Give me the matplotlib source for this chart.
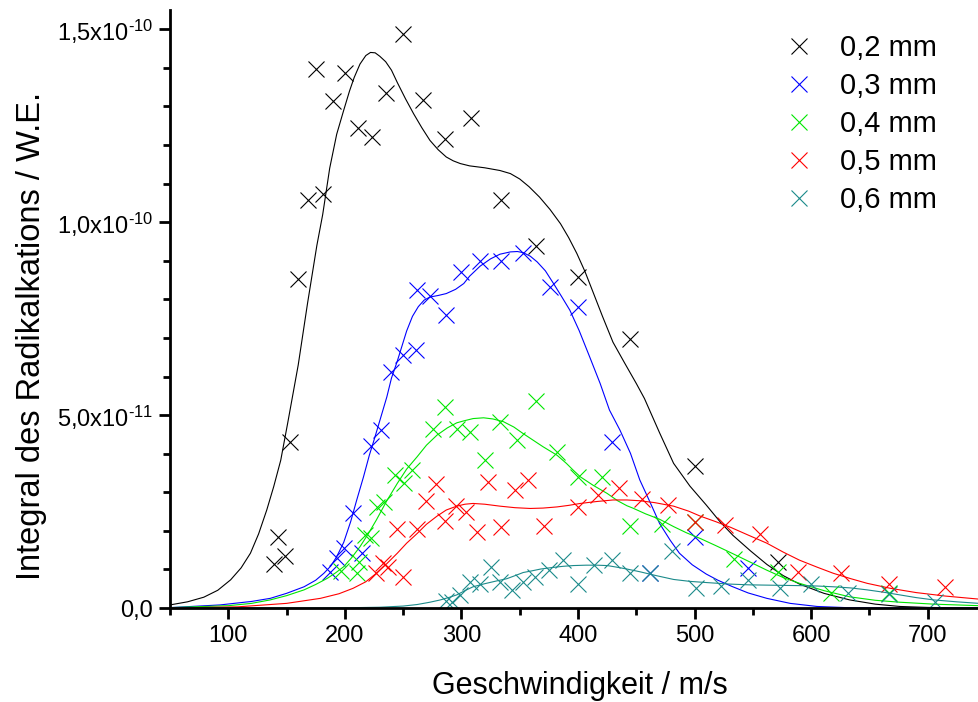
import matplotlib.pyplot as plt
from matplotlib.ticker import FixedLocator, FuncFormatter
import numpy as np

plt.rcParams['font.family'] = ['Liberation Sans', 'DejaVu Sans']
plt.rcParams['mathtext.fontset'] = 'custom'
plt.rcParams['mathtext.rm'] = 'Liberation Sans'
plt.rcParams['mathtext.it'] = 'Liberation Sans'

# measured points (y in units of 1e-12)
x_02 = [139, 143, 149, 153, 160, 168, 175, 181, 190, 200, 211, 223, 235, 250, 267, 286, 308, 334, 364, 400, 445, 500, 572]
y_02 = [11.4, 18.4, 13.5, 43.0, 85.2, 105.7, 139.6, 107.2, 131.3, 138.8, 124.3, 122.2, 133.6, 148.9, 131.6, 121.5, 126.9, 105.7, 93.8, 85.7, 69.6, 36.8, 12.0]

x_03 = [187, 193, 199, 207, 215, 222, 231, 240, 250, 261, 262, 273, 287, 300, 316, 334, 353, 376, 400, 429, 462, 500, 546]
y_03 = [9.4, 12.9, 15.5, 24.5, 14.2, 42.0, 46.1, 61.2, 65.5, 66.8, 82.4, 80.8, 75.9, 87.1, 90.0, 90.0, 92.0, 83.2, 78.0, 43.1, 9.0, 18.5, 10.3]

x_04 = [197, 210, 212, 217, 222, 228, 234, 243, 251, 258, 276, 286, 296, 307, 320, 333, 348, 364, 382, 400, 421, 445, 472, 500, 534, 572, 617, 667]
y_04 = [9.6, 9.0, 11.8, 18.9, 18.1, 26.2, 27.5, 34.5, 32.5, 35.7, 46.5, 52.0, 46.5, 45.7, 38.3, 48.3, 43.6, 53.6, 40.4, 33.9, 33.9, 21.2, 21.7, 22.4, 12.6, 9.4, 3.8, 4.0]

x_05 = [227, 233, 237, 250, 245, 262, 270, 278, 286, 295, 304, 313, 323, 334, 346, 357, 371, 400, 417, 435, 455, 477, 500, 526, 556, 589, 626, 667, 715]
y_05 = [9.2, 11.6, 10.7, 8.1, 20.6, 20.6, 27.8, 32.1, 22.6, 26.5, 24.9, 19.8, 32.7, 21.1, 30.6, 33.2, 21.2, 26.2, 29.3, 31.0, 28.3, 26.7, 22.4, 21.5, 19.1, 9.4, 9.2, 6.2, 5.4]

x_06 = [287, 292, 299, 307, 316, 325, 333, 343, 353, 363, 375, 387, 400, 414, 429, 445, 462, 481, 501, 523, 546, 573, 600, 632, 667, 706]
y_06 = [1.8, 1.6, 3.4, 6.8, 6.1, 10.6, 6.8, 4.7, 6.8, 8.1, 9.8, 12.4, 6.2, 11.1, 12.4, 9.1, 9.0, 14.9, 5.2, 5.6, 7.3, 5.1, 6.3, 3.8, 3.5, 1.6]

# fitted curves
cx_02 = [50, 65, 79, 91, 102, 111, 119, 126, 133, 139, 145, 151, 160, 168, 176, 181, 187, 193, 199, 204, 208, 213, 218, 222, 226, 230, 235, 240, 245, 252, 259, 266, 273, 280, 287, 293, 299, 307, 320, 333, 342, 350, 358, 367, 376, 385, 392, 399, 406, 413, 421, 430, 440, 450, 457, 470, 482, 496, 510, 522, 533, 548, 562, 576, 590, 611, 633, 655, 676, 700, 720, 744]
cy_02 = [0.8, 1.6, 2.8, 4.6, 7.3, 10.4, 14.2, 19.2, 25.4, 31.5, 38.3, 48.0, 63.0, 79.0, 94.0, 102.0, 114.0, 122.8, 129.0, 134.0, 137.5, 141.0, 143.2, 144.0, 143.9, 143.0, 141.6, 139.4, 136.2, 132.0, 128.1, 124.5, 121.2, 118.8, 116.9, 115.9, 115.2, 114.6, 114.1, 113.4, 112.6, 111.2, 109.2, 106.5, 103.3, 99.6, 96.0, 91.9, 87.2, 81.8, 75.6, 68.9, 63.5, 58.2, 54.3, 45.4, 37.5, 31.6, 26.7, 22.3, 18.8, 14.8, 11.3, 8.4, 6.2, 3.8, 2.1, 1.0, 0.4, 0.15, 0.05, 0.0]

cx_03 = [50, 93, 120, 136, 150, 165, 175, 182, 188, 193, 199, 205, 210, 216, 221, 225, 231, 236, 240, 245, 249, 253, 258, 263, 268, 273, 280, 287, 295, 302, 307, 316, 325, 333, 342, 348, 353, 359, 365, 372, 379, 386, 393, 401, 410, 419, 427, 436, 445, 453, 462, 470, 479, 487, 498, 510, 520, 532, 546, 562, 582, 605, 630, 660, 700, 744]
cy_03 = [0.1, 0.8, 1.7, 2.5, 3.8, 5.5, 7.2, 9.0, 10.9, 13.3, 17.0, 22.4, 27.8, 34.0, 39.6, 43.5, 49.6, 54.7, 59.6, 64.0, 67.9, 71.8, 75.6, 78.1, 79.8, 80.6, 81.0, 81.5, 82.6, 84.1, 86.0, 88.6, 90.5, 91.7, 92.3, 92.4, 92.1, 91.2, 89.7, 87.4, 84.1, 80.7, 77.2, 71.9, 65.1, 58.2, 51.3, 46.1, 40.1, 33.2, 27.3, 21.9, 17.6, 14.2, 11.2, 8.8, 7.2, 5.6, 3.9, 2.5, 1.2, 0.4, 0.1, 0.02, 0.0, 0.0]

cx_04 = [50, 100, 120, 136, 150, 165, 175, 185, 192, 199, 206, 213, 220, 227, 236, 245, 253, 262, 270, 279, 288, 296, 302, 310, 319, 327, 336, 345, 353, 359, 370, 382, 390, 396, 402, 413, 425, 434, 442, 447, 458, 470, 482, 493, 505, 518, 532, 547, 562, 576, 590, 611, 633, 655, 676, 705, 744]
cy_04 = [0.1, 0.6, 1.2, 2.1, 3.2, 4.7, 6.1, 7.7, 9.1, 10.7, 13.1, 15.9, 19.2, 22.8, 27.8, 32.3, 36.0, 39.2, 42.2, 44.8, 46.7, 48.0, 48.5, 49.1, 49.3, 49.0, 48.3, 46.9, 45.2, 44.0, 41.8, 39.6, 37.5, 35.7, 34.0, 31.8, 29.7, 27.8, 26.5, 25.9, 24.4, 23.0, 21.1, 19.5, 18.0, 16.2, 14.2, 12.0, 9.8, 7.9, 6.4, 4.5, 2.9, 2.0, 1.5, 1.0, 0.6]

cx_05 = [50, 108, 150, 179, 195, 207, 218, 227, 236, 245, 253, 262, 270, 279, 287, 296, 303, 310, 320, 333, 346, 359, 370, 382, 392, 402, 416, 430, 442, 453, 466, 482, 495, 505, 518, 531, 546, 562, 576, 590, 605, 619, 634, 648, 668, 690, 715, 744]
cy_05 = [0.0, 0.3, 1.2, 2.5, 3.7, 5.1, 6.8, 9.0, 11.5, 14.2, 16.8, 19.3, 21.7, 23.8, 25.4, 26.4, 26.9, 27.1, 26.9, 26.4, 26.0, 25.8, 25.9, 26.2, 26.6, 27.1, 27.6, 28.0, 28.0, 27.8, 27.3, 26.4, 25.1, 23.8, 22.4, 20.9, 18.9, 16.8, 14.5, 12.4, 10.6, 9.0, 7.6, 6.4, 5.1, 4.0, 3.1, 2.3]

cx_06 = [50, 150, 200, 230, 250, 262, 273, 282, 290, 296, 303, 310, 320, 330, 339, 347, 353, 360, 368, 378, 387, 396, 407, 416, 425, 433, 442, 453, 467, 482, 496, 510, 530, 547, 568, 590, 605, 619, 634, 648, 662, 676, 690, 705, 725, 744]
cy_06 = [0.0, 0.0, 0.05, 0.2, 0.5, 0.9, 1.5, 2.1, 2.8, 3.4, 4.5, 5.5, 6.3, 7.0, 7.6, 8.5, 9.2, 9.6, 10.1, 10.5, 10.8, 11.0, 11.1, 11.1, 11.0, 10.6, 10.1, 9.4, 8.4, 7.4, 6.9, 6.6, 6.2, 6.0, 5.9, 5.8, 5.7, 5.5, 5.2, 4.7, 4.1, 3.4, 2.7, 2.1, 1.6, 1.2]

labels = ['0,2 mm', '0,3 mm', '0,4 mm', '0,5 mm', '0,6 mm']
colors = ['#000000', '#0000ff', '#00e600', '#ff0000', '#1b8a8a']

x_major = [100, 200, 300, 400, 500, 600, 700]
x_minor = [50, 150, 250, 350, 450, 550, 650]
y_major = [0, 5e-11, 1e-10, 1.5e-10]
y_minor = [1e-11, 2e-11, 3e-11, 4e-11, 6e-11, 7e-11, 8e-11, 9e-11,
           1.1e-10, 1.2e-10, 1.3e-10, 1.4e-10]

points = [(x_02, y_02), (x_03, y_03), (x_04, y_04), (x_05, y_05), (x_06, y_06)]
curves = [(cx_02, cy_02), (cx_03, cy_03), (cx_04, cy_04), (cx_05, cy_05), (cx_06, cy_06)]

fig = plt.figure(figsize=(9.79, 7.02), dpi=100)
ax = fig.add_axes([170 / 979, 1 - 608 / 702, 1 - 170 / 979, 598 / 702])

for (px, py), (qx, qy), c, lab in zip(points, curves, colors, labels):
    ax.plot(qx, np.array(qy) * 1e-12, color=c, lw=0.8)
    ax.plot(px, np.array(py) * 1e-12, ls='none', marker='x', ms=11, mew=0.8,
            color=c, label=lab)

ax.set_xlim(50, 744)
ax.set_ylim(0, 1.55e-10)

for s in ['top', 'right']:
    ax.spines[s].set_visible(False)
for s in ['left', 'bottom']:
    ax.spines[s].set_linewidth(2.0)

ax.xaxis.set_major_locator(FixedLocator(x_major))
ax.xaxis.set_minor_locator(FixedLocator(x_minor))
ax.yaxis.set_major_locator(FixedLocator(y_major))
ax.yaxis.set_minor_locator(FixedLocator(y_minor))
ax.tick_params(which='major', length=8, width=2, labelsize=17, direction='out', pad=4)
ax.tick_params(which='minor', length=5, width=2, direction='out')


def yfmt(v, pos):
    if v == 0:
        return '0,0'
    e = int(np.floor(np.log10(abs(v)) + 1e-9))
    m = v / 10 ** e
    return ('%.1f' % m).replace('.', ',') + r'x10$^{\text{-}%d}$' % abs(e)


ax.yaxis.set_major_formatter(FuncFormatter(yfmt))

ax.set_xlabel('Geschwindigkeit / m/s', fontsize=22, labelpad=12)
ax.xaxis.set_label_coords(0.507, -0.105)
ax.set_ylabel('Integral des Radikalkations / W.E.', fontsize=23.5, labelpad=8)
ax.yaxis.set_label_coords(-0.152, 0.455)

leg = ax.legend(loc='upper right', bbox_to_anchor=(0.98, 1.003), frameon=False,
                fontsize=21, handletextpad=0.4, labelspacing=0.34, borderpad=0.4)

fig.savefig('out.png', dpi=100)
